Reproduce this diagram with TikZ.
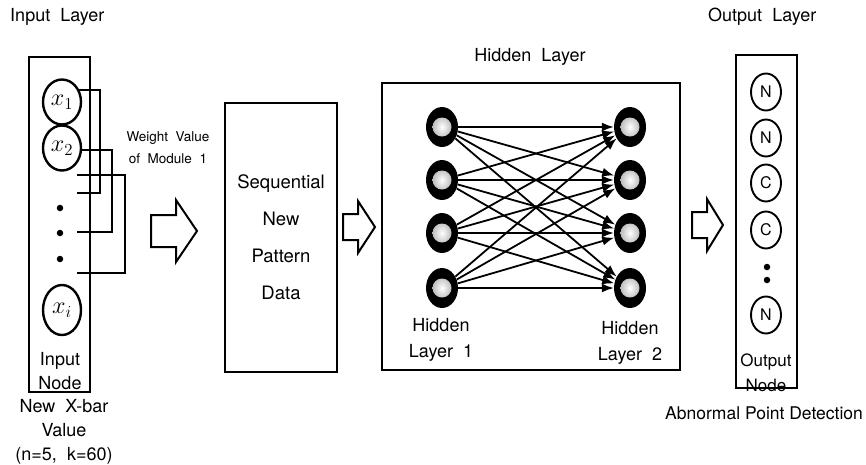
\documentclass[tikz,border=0pt]{standalone}
\usepackage{graphicx}
\usepackage{fontspec}
\setmainfont{TeX Gyre Heros}
\usetikzlibrary{arrows.meta,shapes.geometric}
\tikzset{>={Latex[length=12pt,width=9pt]}}
\newcommand{\invar}[1]{\scalebox{1.4}{$#1$}}
\tikzset{
  txt/.style={font=\fontsize{18}{24}\selectfont, inner sep=0pt, align=center},
  smalltxt/.style={font=\fontsize{13.5}{22}\selectfont, inner sep=0pt, align=center},
  frame/.style={draw, line width=2pt},
  innode/.style={ellipse, draw, line width=2.4pt, minimum width=38pt, minimum height=45pt, inner sep=0pt, font=\fontsize{17}{18}\selectfont},
  outnode/.style={ellipse, draw, line width=1.9pt, minimum width=30pt, minimum height=37pt, inner sep=0pt, font=\fontsize{16}{18}\selectfont},
  neuron/.style={ellipse, fill=black, minimum width=32pt, minimum height=40pt, inner sep=0pt,
    path picture={\shade[inner color=white, outer color=black!45] (path picture bounding box.center) circle (9.5pt);}},
  dot/.style={circle, fill=black, inner sep=0pt, minimum size=6.5pt},
  wire/.style={line width=2pt},
  blockarrow/.style={draw, line width=2pt, line join=miter, fill=white}
}

\begin{document}
\begin{tikzpicture}[x=1pt,y=-1pt]
  \useasboundingbox (0,0) rectangle (866,464);
%-----Input layer-----
  \node[txt, anchor=west] (inlayer) at (10,17) {Input\ \ Layer};
  \draw[frame] (29,57) rectangle (90,392);
  \node[innode] (x1) at (62,102) {\invar{x_1}};
  \node[innode] (x2) at (62,148) {\invar{x_2}};
  \node[innode, minimum height=50pt] (xi) at (62,310) {\invar{x_i}};
  \foreach \y [count=\j] in {208,233,259}
    {
      \node[dot] (d\j) at (60,\y) {};
    }
  \node[txt] (innodelbl) at (60,371) {Input\\Node};
  \node[txt] (xbar) at (64,432) {New\ \ X-bar\\Value\\(n=5,\ \ k=60)};
%-----Weight wiring-----
  \coordinate (s1) at (77,193);
  \coordinate (s2) at (77,232);
  \coordinate (s3) at (77,175);
  \coordinate (s4) at (77,273);
  \coordinate (k1) at (100,193);
  \coordinate (k2) at (112,232);
  \coordinate (k3) at (125,175);
  \coordinate (k4) at (125,273);
  \draw[wire] (x1.35) -| (k1) -- (s1);
  \draw[wire] (x2.-5) -| (k2) -- (s2);
  \draw[wire] (s3) -- (k3) -- (k4) -- (s4);
  \node[smalltxt] (weight) at (168,148) {Weight\ \ Value\\of\ \ Module\ \ 1};
%-----Sequential data-----
  \node[frame, txt, font=\fontsize{18.5}{37}\selectfont, minimum width=112pt, minimum height=269pt] (seq) at (281,237.5) {Sequential\\New\\Pattern\\Data};
%-----Hidden layer-----
  \node[txt] (hidlayer) at (530,57) {Hidden\ \ Layer};
  \draw[frame] (382,83) rectangle (680,370);
  \foreach \y [count=\j] in {127,180,233,288}
    {
      \node[neuron] (ha\j) at (442,\y) {};
      \node[neuron] (hb\j) at (630,\y) {};
    }
  \foreach \i in {1,...,4}
    \foreach \j in {1,...,4}
      {
        \draw[->, line width=1.8pt] (ha\i) -- (hb\j);
      }
  \node[txt, font=\fontsize{18}{26}\selectfont] (hid1) at (441,340) {Hidden\\Layer\ \ 1};
  \node[txt, font=\fontsize{18}{26}\selectfont] (hid2) at (630,343) {Hidden\\Layer\ \ 2};
%-----Output layer-----
  \node[txt, anchor=west] (outlayer) at (708,17) {Output\ \ Layer};
  \draw[frame] (736,55) rectangle (797,388);
  \foreach \t/\y [count=\j] in {N/92,N/138,C/183,C/230}
    {
      \node[outnode] (o\j) at (766,\y) {\t};
    }
  \node[outnode] (o5) at (766,315) {N};
  \node[dot] (od1) at (767,267) {};
  \node[dot] (od2) at (767,280) {};
  \node[txt, font=\fontsize{17}{25}\selectfont] (outnodelbl) at (766,373) {Output\\Node};
  \node[txt, font=\fontsize{17.5}{20}\selectfont, anchor=west] (abnormal) at (665,413) {Abnormal Point Detection};
%-----Block arrows-----
  \foreach \x/\y/\len/\hl/\sh/\hd in {151/231/46/21/16/31, 343/227/32/17/13/26, 692/225/31/16/13/26}
    {
      \draw[blockarrow] (\x,{\y-\sh}) -- ({\x+\len-\hl},{\y-\sh}) -- ({\x+\len-\hl},{\y-\hd})
        -- ({\x+\len},\y) -- ({\x+\len-\hl},{\y+\hd}) -- ({\x+\len-\hl},{\y+\sh}) -- (\x,{\y+\sh}) -- cycle;
    }
\end{tikzpicture}
\end{document}
